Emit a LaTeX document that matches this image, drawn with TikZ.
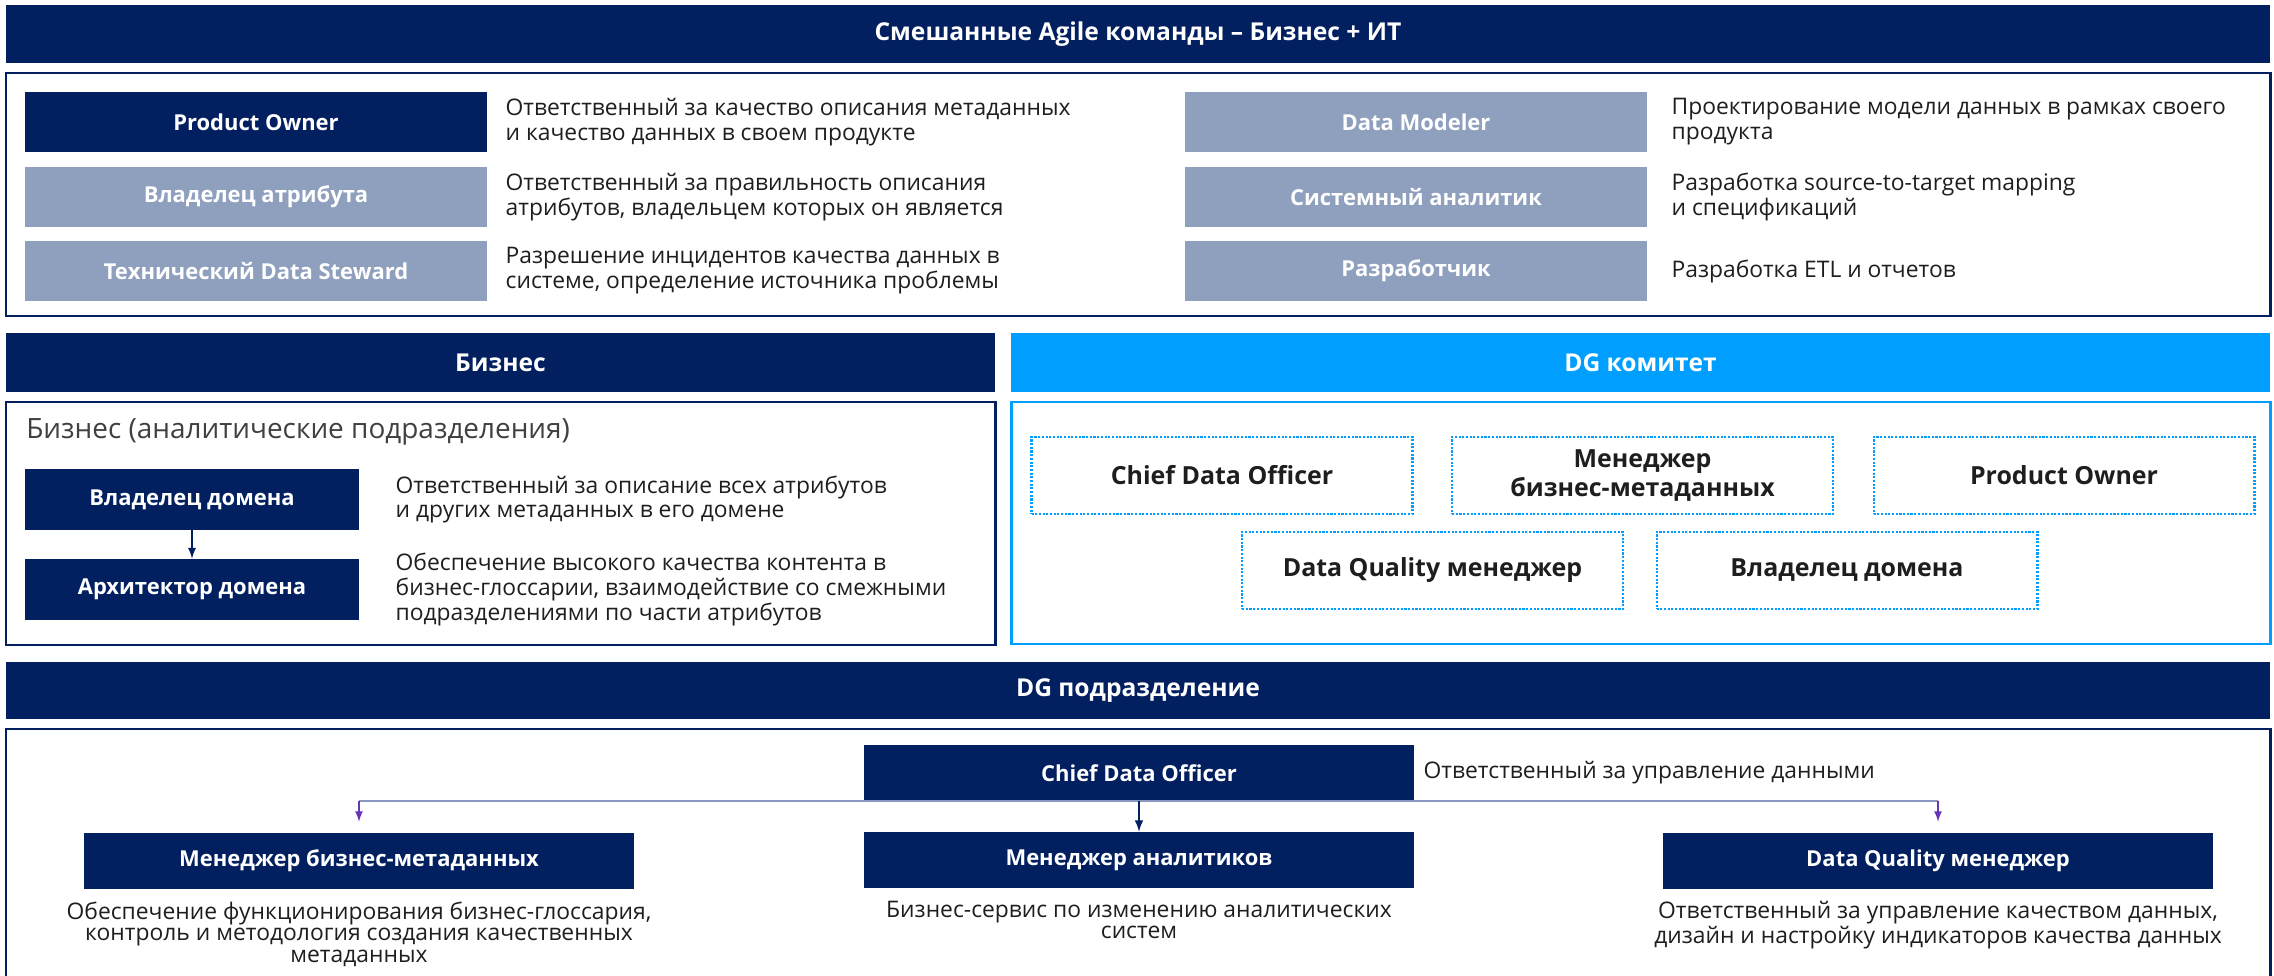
\documentclass[tikz,border=0pt]{standalone}
\usepackage{fontspec}
\setmainfont{Open Sans}
\usepackage{tikz}
\usetikzlibrary{positioning}
\usetikzlibrary{arrows}

\definecolor{navy}{HTML}{022060}
\definecolor{greyblue}{HTML}{8FA0BE}
\definecolor{skyblue}{HTML}{009EFF}
\definecolor{linkgrey}{HTML}{8A96BE}
\definecolor{linkviolet}{HTML}{6535B5}
\definecolor{bodytext}{HTML}{1E1E1E}

\tikzset{
  banner/.style={fill=navy, text=white, font=\bfseries\fontsize{14}{16}\selectfont,
    minimum width=45.28cm, minimum height=1.16cm, inner sep=0pt},
  role/.style={fill=navy, text=white, font=\bfseries\fontsize{12.5}{14}\selectfont,
    minimum width=9.24cm, minimum height=1.22cm, inner sep=0pt},
  rolegrey/.style={role, fill=greyblue},
  desc/.style={anchor=west, align=left, text=bodytext,
    font=\fontsize{13}{14.2}\selectfont, inner sep=0pt},
  subdesc/.style={align=center, text=bodytext,
    font=\fontsize{13}{12.2}\selectfont, inner sep=0pt},
  member/.style={draw=skyblue, dash pattern=on 1.2pt off 0.9pt, line width=1.2pt,
    text=bodytext, font=\bfseries\fontsize{14.2}{16.5}\selectfont, align=center,
    minimum width=7.62cm, minimum height=1.54cm},
  frame/.style={draw=navy, line width=1.7pt},
}

\begin{document}
\begin{tikzpicture}[x=0.02cm, y=-0.02cm]
\useasboundingbox (0,0) rectangle (2274,976);

% Agile teams
\node[banner] (agile) at (1138,34) {Смешанные Agile команды – Бизнес + ИТ};
\draw[frame] (6,73) rectangle (2270,316);
\node[role] (po) at (256,122) {Product Owner};
\node[rolegrey] (attr) at (256,197) {Владелец атрибута};
\node[rolegrey] (steward) at (256,271) {Технический Data Steward};
\node[desc, right=0.36cm of po] (podesc) {Ответственный за качество описания метаданных\\и качество данных в своем продукте};
\node[desc, right=0.36cm of attr] (attrdesc) {Ответственный за правильность описания\\атрибутов, владельцем которых он является};
\node[desc, right=0.36cm of steward] (stewarddesc) {Разрешение инцидентов качества данных в\\системе, определение источника проблемы};
\node[rolegrey] (modeler) at (1416,122) {Data Modeler};
\node[rolegrey] (analyst) at (1416,197) {Системный аналитик};
\node[rolegrey] (dev) at (1416,271) {Разработчик};
\node[desc, right=0.48cm of modeler] (modelerdesc) {Проектирование модели данных в рамках своего\\продукта};
\node[desc, right=0.48cm of analyst] (analystdesc) {Разработка source-to-target mapping\\и спецификаций};
\node[desc, right=0.48cm of dev] (devdesc) {Разработка ETL и отчетов};

% Business and DG committee
\node[banner, minimum width=19.78cm, minimum height=1.18cm] (biz) at (500.5,362.5) {Бизнес};
\node[banner, fill=skyblue, minimum width=25.18cm, minimum height=1.18cm] (dgc) at (1640.5,362.5) {DG комитет};
\draw[frame] (6,402) rectangle (995,645);
\draw[frame, draw=skyblue] (1011,402) rectangle (2270,644);
\node[anchor=west, text=bodytext!85, font=\fontsize{15.9}{18}\selectfont, inner sep=0pt] (biztitle) at (26,432) {Бизнес (аналитические подразделения)};
\node[role, minimum width=6.68cm] (owner) at (192,499.5) {Владелец домена};
\node[role, minimum width=6.68cm] (arch) at (192,589.5) {Архитектор домена};
\draw[navy, line width=1.1pt, -latex] (owner) -- (arch);
\node[desc, right=0.72cm of owner] (ownerdesc) {Ответственный за описание всех атрибутов\\и других метаданных в его домене};
\node[desc, right=0.72cm of arch] (archdesc) {Обеспечение высокого качества контента в\\бизнес-глоссарии, взаимодействие со смежными\\подразделениями по части атрибутов};
\node[member] (cdo2) at (1222,475.5) {Chief Data Officer};
\node[member] (bmm2) at (1642.5,475.5) {Менеджер\\бизнес-метаданных};
\node[member] (po2) at (2064,475.5) {Product Owner};
\node[member] (dqm2) at (1432.5,570.5) {Data Quality менеджер};
\node[member] (owner2) at (1847,570.5) {Владелец домена};

% DG department
\node[banner, minimum height=1.14cm] (dgd) at (1138,690.5) {DG подразделение};
\draw[frame] (6,990) -- (6,729) -- (2270,729) -- (2270,990);
\node[role, minimum width=11cm, minimum height=1.12cm] (cdo) at (1139,773) {Chief Data Officer};
\node[desc, right=0.18cm of cdo] (cdodesc) {Ответственный за управление данными};
\node[role, minimum width=11cm, minimum height=1.12cm] (bmm) at (359,861) {Менеджер бизнес-метаданных};
\node[role, minimum width=11cm, minimum height=1.12cm] (anm) at (1139,860) {Менеджер аналитиков};
\node[role, minimum width=11cm, minimum height=1.12cm] (dqm) at (1938,861) {Data Quality менеджер};
\node[subdesc, below=0.24cm of bmm] (bmmdesc) {Обеспечение функционирования бизнес-глоссария,\\контроль и методология создания качественных\\метаданных};
\node[subdesc, below=0.24cm of anm] (anmdesc) {Бизнес-сервис по изменению аналитических\\систем};
\node[subdesc, below=0.24cm of dqm] (dqmdesc) {Ответственный за управление качеством данных,\\дизайн и настройку индикаторов качества данных};
\draw[linkgrey, line width=1pt] (cdo.south) -- (cdo.south -| bmm.north);
\draw[linkgrey, line width=1pt] (cdo.south) -- (cdo.south -| dqm.north);
\draw[linkviolet, line width=1pt, -latex, shorten >=0.22cm] (cdo.south -| bmm.north) -- (bmm.north);
\draw[linkviolet, line width=1pt, -latex, shorten >=0.22cm] (cdo.south -| dqm.north) -- (dqm.north);
\draw[navy, line width=1.2pt, -latex] (cdo) -- (anm);
\end{tikzpicture}
\end{document}
